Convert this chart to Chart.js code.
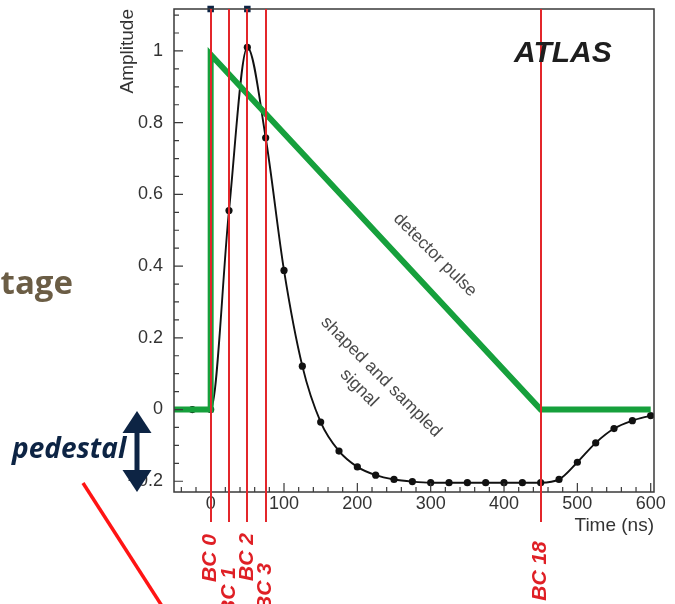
<!DOCTYPE html>
<html><head><meta charset="utf-8">
<script src="https://cdn.jsdelivr.net/npm/chart.js@4.4.1/dist/chart.umd.min.js"></script>
<style>html,body{margin:0;padding:0;background:#fff;}canvas{display:block;}</style>
</head><body>
<canvas id="c" width="675" height="604"></canvas>
<script>
// ---- data ----
const sampleTimes = [-25,0,25,50,75,100,125,150,175,200,225,250,275,300,325,350,375,400,425,450,475,500,525,550,575,600];
const signalValues = [0,0,0.555,1.01,0.758,0.388,0.121,-0.035,-0.116,-0.160,-0.183,-0.195,-0.201,-0.204,-0.204,-0.204,-0.204,-0.204,-0.204,-0.204,-0.195,-0.147,-0.093,-0.053,-0.031,-0.017];
const pulseTimes = [-50,0,0,450,600];
const pulseValues = [0,0,0.99,0,0];
const bcTimes = [0,25,50,75,450];
const bcLabels = ['BC 0','BC 1','BC 2','BC 3','BC 18'];
const topMarkerTimes = [0,50];
const xTickValues = [0,100,200,300,400,500,600];
const xTickLabels = ['0','100','200','300','400','500','600'];
const yTickValues = [-0.2,0,0.2,0.4,0.6,0.8,1];
const yTickLabels = ['\u22120.2','0','0.2','0.4','0.6','0.8','1'];
const X_MIN = -50, X_MAX = 604.5, Y_MIN = -0.23, Y_MAX = 1.117;

const FONT = '"Liberation Sans", Arial, Helvetica, sans-serif';

const decor = {
  id: 'decor',
  afterDatasetsDraw(chart) {
    const ctx = chart.ctx, xs = chart.scales.x, ys = chart.scales.y, a = chart.chartArea;
    ctx.save();
    // frame
    ctx.strokeStyle = '#3a3a3a'; ctx.lineWidth = 1.5;
    ctx.strokeRect(a.left, a.top, a.right - a.left, a.bottom - a.top);
    // inner ticks
    ctx.lineWidth = 1.2;
    ctx.beginPath();
    for (let v = -40; v <= 600; v += 20) {
      const px = xs.getPixelForValue(v);
      const len = (v % 100 === 0) ? 9 : 5;
      ctx.moveTo(px, a.bottom); ctx.lineTo(px, a.bottom - len);
    }
    for (let k = -4; k <= 22; k++) {
      const v = k * 0.05;
      if (v < Y_MIN || v > Y_MAX) continue;
      const py = ys.getPixelForValue(v);
      const len = (k % 4 === 0) ? 9 : 5;
      ctx.moveTo(a.left, py); ctx.lineTo(a.left + len, py);
    }
    ctx.stroke();
    // red BC lines
    ctx.strokeStyle = '#e3262b'; ctx.lineWidth = 2;
    ctx.beginPath();
    bcTimes.forEach(t => {
      const px = Math.round(xs.getPixelForValue(t));
      ctx.moveTo(px, a.top); ctx.lineTo(px, 522);
    });
    ctx.stroke();
    ctx.restore();
  },
  afterDraw(chart) {
    const ctx = chart.ctx, xs = chart.scales.x;
    ctx.save();
    // BC labels
    const labelCY = [558, 591, 557, 587, 571];
    ctx.fillStyle = '#df1f25';
    ctx.font = 'italic bold 21px ' + FONT;
    ctx.textAlign = 'center'; ctx.textBaseline = 'middle';
    bcTimes.forEach((t, i) => {
      const px = xs.getPixelForValue(t);
      ctx.save(); ctx.translate(px, labelCY[i]); ctx.rotate(-Math.PI / 2);
      ctx.fillText(bcLabels[i], 0, 0); ctx.restore();
    });
    // ATLAS
    ctx.fillStyle = '#1e1e1e';
    ctx.font = 'italic bold 30px ' + FONT;
    ctx.textAlign = 'left'; ctx.textBaseline = 'alphabetic';
    ctx.fillText('ATLAS', 514, 62);
    // rotated annotations
    ctx.fillStyle = '#4a4a4a';
    ctx.font = '17.5px ' + FONT;
    ctx.textAlign = 'center'; ctx.textBaseline = 'middle';
    const rot = (txt, x, y, ang) => { ctx.save(); ctx.translate(x, y); ctx.rotate(ang); ctx.fillText(txt, 0, 0); ctx.restore(); };
    rot('detector pulse', 435, 255, Math.PI / 4);
    rot('shaped and sampled', 381, 377, Math.PI / 4);
    rot('signal', 359, 388, Math.PI / 4);
    // "tage"
    ctx.fillStyle = '#6b5d45';
    ctx.font = 'bold 33px "Open Sans", sans-serif';
    ctx.textAlign = 'right'; ctx.textBaseline = 'alphabetic';
    ctx.fillText('tage', 73, 294);
    // pedestal
    ctx.fillStyle = '#0d2444';
    ctx.font = 'italic bold 28px "Open Sans", sans-serif';
    ctx.textAlign = 'left';
    ctx.fillText('pedestal', 12, 458);
    // double arrow
    ctx.fillStyle = '#0d2444';
    ctx.fillRect(134.5, 430, 5, 44);
    ctx.beginPath(); ctx.moveTo(137, 411); ctx.lineTo(151.5, 433); ctx.lineTo(122.5, 433); ctx.closePath(); ctx.fill();
    ctx.beginPath(); ctx.moveTo(137, 492); ctx.lineTo(151.5, 470); ctx.lineTo(122.5, 470); ctx.closePath(); ctx.fill();
    // red diagonal
    ctx.strokeStyle = '#ff1414'; ctx.lineWidth = 3.5;
    ctx.beginPath(); ctx.moveTo(83, 483); ctx.lineTo(162, 606); ctx.stroke();
    ctx.restore();
  }
};

new Chart(document.getElementById('c'), {
  type: 'scatter',
  data: {
    datasets: [
      {
        label: 'detector pulse',
        data: pulseTimes.map((t, i) => ({x: t, y: pulseValues[i]})),
        showLine: true, borderColor: '#16a03c', borderWidth: 6,
        borderJoinStyle: 'miter', pointRadius: 0, tension: 0, order: 1
      },
      {
        label: 'shaped and sampled signal',
        data: sampleTimes.map((t, i) => ({x: t, y: signalValues[i]})),
        showLine: true, borderColor: '#111', borderWidth: 1.9,
        cubicInterpolationMode: 'monotone',
        pointRadius: 3.6, pointBackgroundColor: '#111', pointBorderColor: '#111', pointBorderWidth: 0,
        order: 2
      },
      {
        label: 'markers',
        data: topMarkerTimes.map(t => ({x: t, y: Y_MAX})),
        showLine: false, pointStyle: 'rect', pointRadius: 4.6,
        pointBackgroundColor: '#0d2444', pointBorderColor: '#0d2444', pointBorderWidth: 0,
        clip: false, order: 0
      }
    ]
  },
  options: {
    responsive: false, animation: false,
    layout: {padding: {top: 9, right: 21, bottom: 67, left: 0}},
    plugins: {legend: {display: false}, tooltip: {enabled: false}},
    scales: {
      x: {
        type: 'linear', min: X_MIN, max: X_MAX,
        afterBuildTicks: s => { s.ticks = xTickValues.map(v => ({value: v})); },
        afterFit: s => { s.height = 45; s.paddingLeft = 0; s.paddingRight = 0; },
        grid: {display: false, drawTicks: false}, border: {display: false},
        ticks: {autoSkip: false, maxRotation: 0, padding: 1, color: '#333',
                font: {family: FONT, size: 18}, callback: (v, i) => xTickLabels[i]},
        title: {display: true, text: 'Time (ns)', align: 'end', color: '#333',
                font: {family: FONT, size: 19}, padding: {top: 0, bottom: 0}}
      },
      y: {
        type: 'linear', min: Y_MIN, max: Y_MAX,
        afterBuildTicks: s => { s.ticks = yTickValues.map(v => ({value: v})); },
        afterFit: s => { s.width = 174; s.paddingTop = 0; s.paddingBottom = 0; },
        grid: {display: false, drawTicks: false}, border: {display: false},
        ticks: {autoSkip: false, padding: 11, color: '#333',
                font: {family: FONT, size: 18}, callback: (v, i) => yTickLabels[i]},
        title: {display: true, text: 'Amplitude', align: 'end', color: '#333',
                font: {family: FONT, size: 19}, padding: {top: 116, bottom: 0}}
      }
    }
  },
  plugins: [decor]
});
</script>
</body></html>
